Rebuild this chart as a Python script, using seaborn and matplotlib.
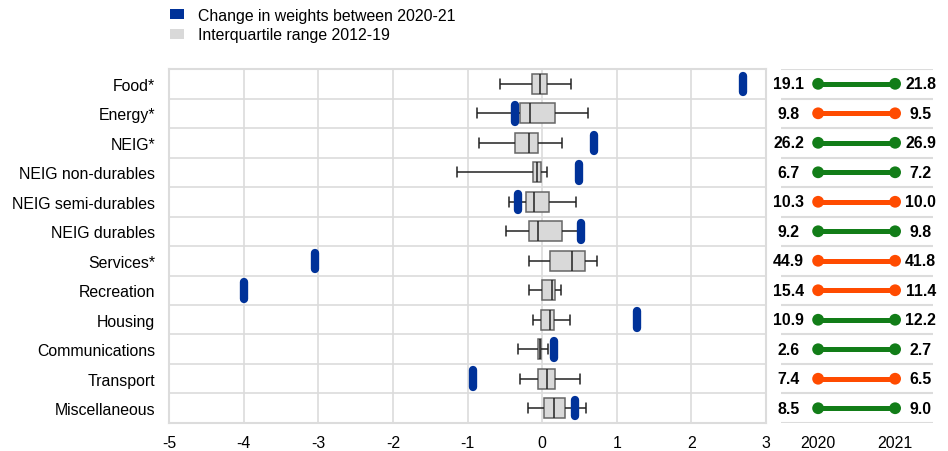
import numpy as np
import pandas as pd
import matplotlib
matplotlib.use("Agg")
import matplotlib.pyplot as plt
from matplotlib.patches import Patch
import seaborn as sns

categories = ["Food*", "Energy*", "NEIG*", "NEIG non-durables", "NEIG semi-durables",
              "NEIG durables", "Services*", "Recreation", "Housing", "Communications",
              "Transport", "Miscellaneous"]
# five-number summaries 2012-19 (whisker low, Q1, median, Q3, whisker high)
wlow = [-0.56, -0.87, -0.85, -1.14, -0.44, -0.48, -0.17, -0.17, -0.12, -0.33, -0.30, -0.19]
q1 = [-0.13, -0.29, -0.36, -0.12, -0.22, -0.18, 0.10, 0.00, -0.01, -0.06, -0.06, 0.03]
med = [-0.03, -0.16, -0.18, -0.075, -0.115, -0.05, 0.40, 0.13, 0.10, -0.035, 0.06, 0.16]
q3 = [0.06, 0.17, -0.06, -0.02, 0.09, 0.26, 0.57, 0.17, 0.16, -0.01, 0.17, 0.30]
whigh = [0.385, 0.62, 0.26, 0.07, 0.45, 0.53, 0.73, 0.25, 0.37, 0.08, 0.51, 0.59]
change = [2.69, -0.36, 0.70, 0.50, -0.32, 0.515, -3.05, -4.0, 1.27, 0.16, -0.92, 0.44]
w2020 = [19.1, 9.8, 26.2, 6.7, 10.3, 9.2, 44.9, 15.4, 10.9, 2.6, 7.4, 8.5]
w2021 = [21.8, 9.5, 26.9, 7.2, 10.0, 9.8, 41.8, 11.4, 12.2, 2.7, 6.5, 9.0]
xticks = [-5, -4, -3, -2, -1, 0, 1, 2, 3]
years = [2020, 2021]

BLUE = "#003299"
GREEN = "#127d18"
ORANGE = "#ff4b00"
BOXGREY = "#d9d9d9"
GRID = "#dcdcdc"
FS = 11.4

sns.set_style("white")
plt.rcParams["font.family"] = ["Liberation Sans", "DejaVu Sans"]
plt.rcParams["text.color"] = "black"
plt.rcParams["xtick.color"] = "black"
plt.rcParams["ytick.color"] = "black"
plt.rcParams["xtick.labelcolor"] = "black"
plt.rcParams["ytick.labelcolor"] = "black"

fig = plt.figure(figsize=(9.48, 4.52), dpi=100)
ax = fig.add_axes([0.1783, 0.062, 0.6297, 0.783])
ax2 = fig.add_axes([0.824, 0.062, 0.160, 0.783])

# long-form five-number data -> exact boxes with whis=(0,100)
rows = []
for c, a, b, m, d, e in zip(categories, wlow, q1, med, q3, whigh):
    for v in (a, b, m, d, e):
        rows.append({"category": c, "value": v})
box_df = pd.DataFrame(rows)

sns.boxplot(data=box_df, x="value", y="category", order=categories, whis=(0, 100),
            width=0.68, color=BOXGREY, linecolor="#555555", linewidth=1.1,
            fliersize=0, ax=ax, zorder=3, saturation=1)
for line in ax.lines:
    line.set_color("#222222")
for p in ax.patches:
    p.set_edgecolor("#666666")
    p.set_facecolor(BOXGREY)

ypos = np.arange(len(categories))
ax.vlines(change, ypos - 0.28, ypos + 0.28, color=BLUE, linewidth=6,
          capstyle="round", zorder=5)

ax.set_xlim(-5, 3)
ax.set_ylim(len(categories) - 0.5, -0.5)
ax.set_xticks(xticks)
ax.set_xticklabels([str(t) for t in xticks], fontsize=FS, color="black")
ax.set_yticks(ypos)
ax.set_yticklabels(categories, fontsize=FS, color="black")
ax.set_xlabel("")
ax.set_ylabel("")
ax.tick_params(axis="x", length=0, pad=8.5)
ax.tick_params(axis="y", length=0, pad=10)
for xv in xticks[1:-1]:
    ax.axvline(xv, color=GRID, lw=1.2, zorder=0)
for yb in np.arange(0.5, len(categories) - 0.5, 1):
    ax.axhline(yb, color=GRID, lw=1.2, zorder=0)
for s in ax.spines.values():
    s.set_color(GRID)
    s.set_linewidth(1.5)

# right panel dumbbells
dd = []
for i, (c, a, b) in enumerate(zip(categories, w2020, w2021)):
    col = GREEN if b >= a else ORANGE
    ax2.plot(years, [i, i], color=col, lw=3.6, solid_capstyle="butt", zorder=2)
    for yr in years:
        dd.append({"year": yr, "row": i, "trend": "up" if b >= a else "down"})
    ax2.annotate(f"{a:.1f}", (2020, i), xytext=(-21.2, 0), textcoords="offset points",
                 ha="center", va="center", fontsize=FS, fontweight="bold", color="black")
    ax2.annotate(f"{b:.1f}", (2021, i), xytext=(18.4, 0), textcoords="offset points",
                 ha="center", va="center", fontsize=FS, fontweight="bold", color="black")
dd_df = pd.DataFrame(dd)
sns.scatterplot(data=dd_df, x="year", y="row", hue="trend",
                palette={"up": GREEN, "down": ORANGE}, s=72, linewidth=0,
                legend=False, ax=ax2, zorder=3)
ax2.set_xlim(2019.52, 2021.49)
ax2.set_ylim(len(categories) - 0.5, -0.5)
for yb in np.arange(-0.5, len(categories), 1):
    ax2.axhline(yb, color=GRID, lw=1.5, zorder=0)
ax2.set_xticks(years)
ax2.set_xticklabels([str(y) for y in years], fontsize=FS, color="black")
ax2.set_yticks([])
ax2.set_xlabel("")
ax2.set_ylabel("")
ax2.tick_params(length=0, pad=8.5)
for s in ax2.spines.values():
    s.set_visible(False)

handles = [Patch(facecolor=BLUE, edgecolor="none"),
           Patch(facecolor=BOXGREY, edgecolor="none")]
fig.legend(handles, ["Change in weights between 2020-21", "Interquartile range 2012-19"],
           loc="upper left", bbox_to_anchor=(0.1727, 0.995), frameon=False,
           fontsize=FS, handlelength=0.89, handleheight=0.63,
           handletextpad=0.89, labelspacing=0.3, borderaxespad=0.0,
           labelcolor="black")

fig.savefig("out.png", dpi=100)
